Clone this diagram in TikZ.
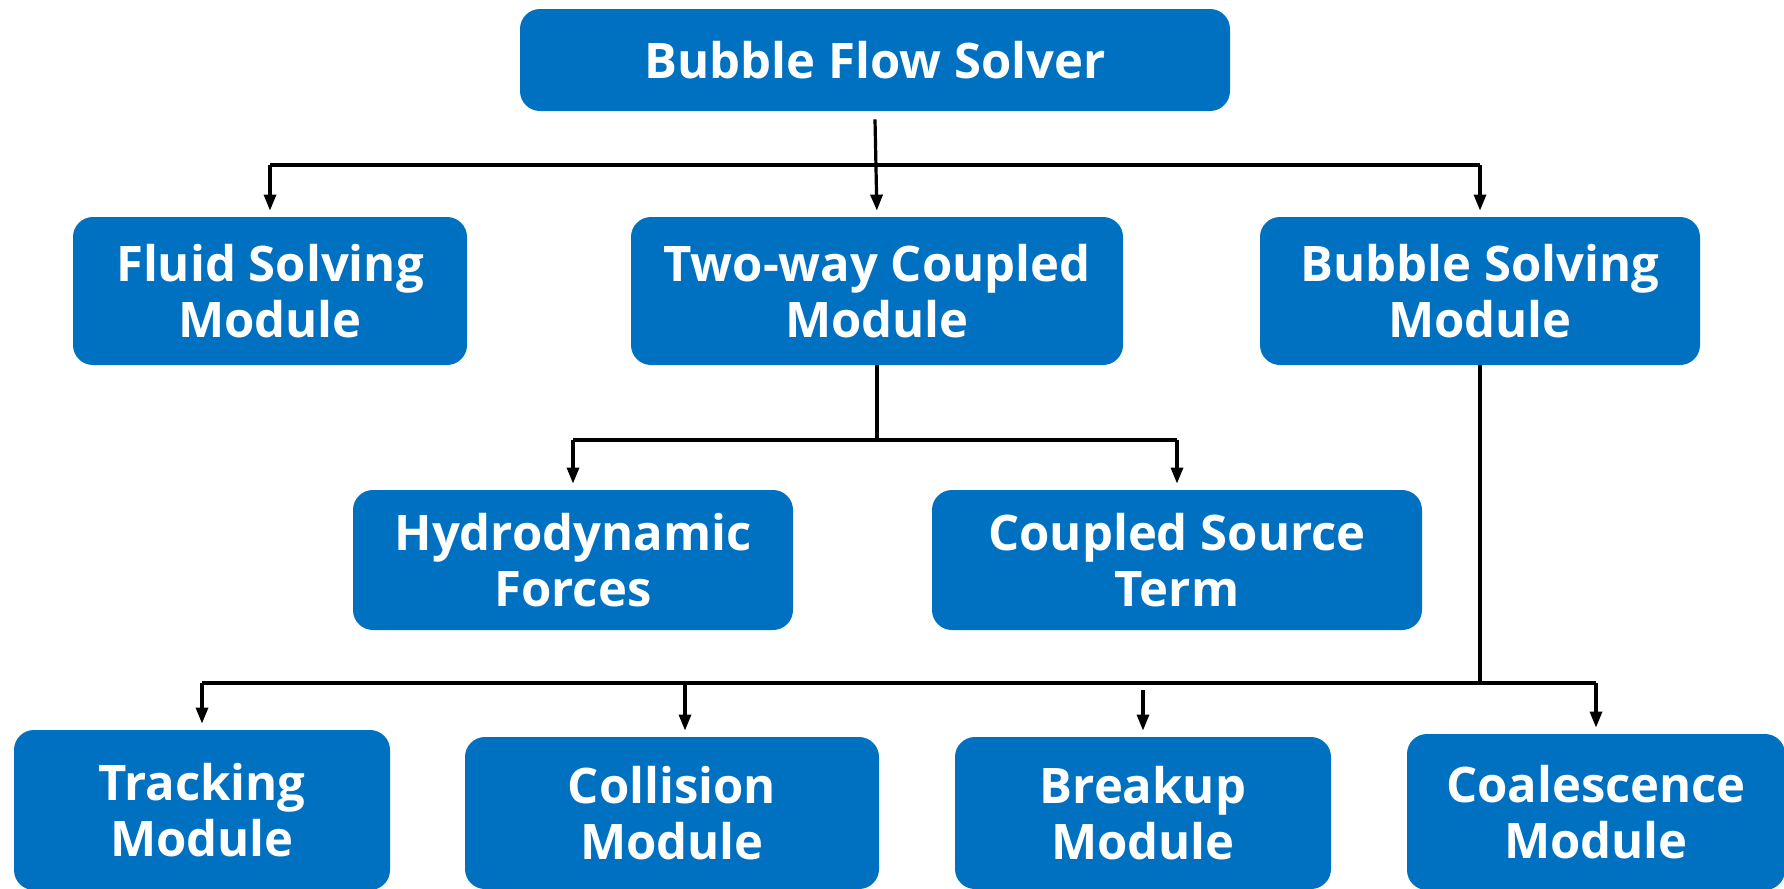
\documentclass[tikz,border=0pt]{standalone}
\usepackage{fontspec}
\setmainfont{Open Sans}
\usetikzlibrary{arrows.meta,calc}
\definecolor{boxblue}{HTML}{0070C0}
\tikzset{
  blk/.style={rectangle, rounded corners=10pt, fill=boxblue, draw=none,
    text=white, align=center, font=\fontsize{24.5}{28}\selectfont\bfseries,
    inner sep=0pt},
  conn/.style={draw=black, line width=1.6pt},
  arr/.style={draw=black, line width=1.6pt, -{Triangle[length=8pt,width=6pt]}, shorten >=3pt},
}
\begin{document}
\begin{tikzpicture}[x=0.5pt,y=-0.5pt]
\useasboundingbox (0,0) rectangle (1784,889);
% nodes
\node[blk, minimum width=355pt, minimum height=51pt] (top) at (875,60) {\raisebox{-1pt}{Bubble Flow Solver}};
\node[blk, minimum width=197pt, minimum height=74pt] (fluid) at (270,291) {\raisebox{-1.5pt}{Fluid Solving}\\\raisebox{-1.5pt}{Module}};
\node[blk, minimum width=246pt, minimum height=74pt] (two) at (877,291) {\raisebox{-1.5pt}{Two-way Coupled}\\\raisebox{-1.5pt}{Module}};
\node[blk, minimum width=220pt, minimum height=74pt] (bsm) at (1480,291) {\raisebox{-1.5pt}{Bubble Solving}\\\raisebox{-1.5pt}{Module}};
\node[blk, minimum width=220pt, minimum height=70pt] (hydro) at (573,560) {\raisebox{-1.5pt}{Hydrodynamic}\\\raisebox{-1.5pt}{Forces}};
\node[blk, minimum width=245pt, minimum height=70pt] (css) at (1177,560) {\raisebox{-1.5pt}{Coupled Source}\\\raisebox{-1.5pt}{Term}};
\node[blk, minimum width=188pt, minimum height=80pt] (track) at (202,810) {Tracking\\Module};
\node[blk, minimum width=207pt, minimum height=76pt] (coll) at (672,813) {Collision\\Module};
\node[blk, minimum width=188pt, minimum height=76pt] (brk) at (1143,813) {Breakup\\Module};
\node[blk, minimum width=189pt, minimum height=78pt] (coal) at (1596,812) {Coalescence\\Module};
% bus coordinates
\coordinate (bus1) at (0,165);
\coordinate (bus2) at (0,440);
\coordinate (bus3) at (0,683);
\coordinate (brkstart) at (0,690);
% level 1
\draw[arr] ([yshift=-4pt]top.south) -- (two.north);
\draw[conn] (fluid.north |- bus1) -- (bsm.north |- bus1);
\draw[arr] (fluid.north |- bus1) -- (fluid.north);
\draw[arr] (bsm.north |- bus1) -- (bsm.north);
% level 2
\draw[conn] (two.south) -- (two.south |- bus2);
\draw[conn] (hydro.north |- bus2) -- (css.north |- bus2);
\draw[arr] (hydro.north |- bus2) -- (hydro.north);
\draw[arr] (css.north |- bus2) -- (css.north);
% level 3
\draw[conn] (bsm.south) -- (bsm.south |- bus3);
\draw[conn] (track.north |- bus3) -- (coal.north |- bus3);
\draw[arr] (track.north |- bus3) -- (track.north);
\draw[arr] ([xshift=6.5pt]coll.north |- bus3) -- ([xshift=6.5pt]coll.north);
\draw[arr] (brk.north |- brkstart) -- (brk.north);
\draw[arr] (coal.north |- bus3) -- (coal.north);
\end{tikzpicture}
\end{document}
